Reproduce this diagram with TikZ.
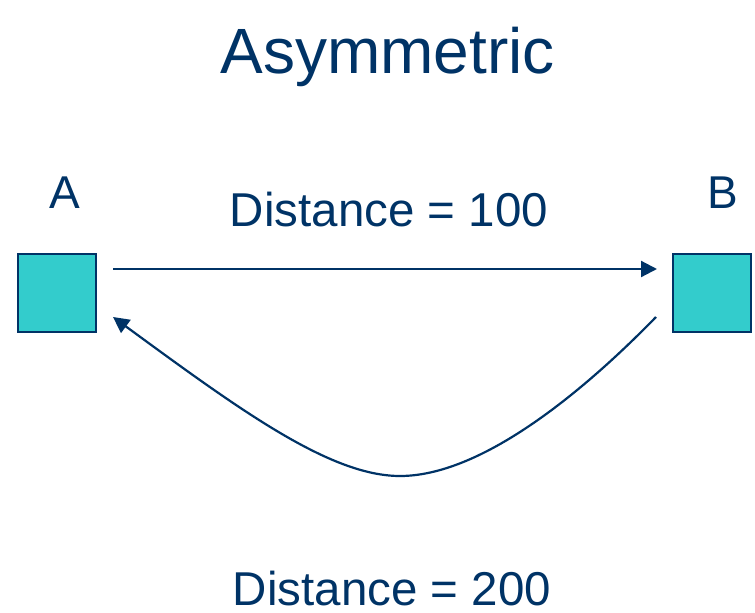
\documentclass[tikz,border=0pt]{standalone}
\usepackage{fontspec}
\setmainfont{Liberation Sans}
\usetikzlibrary{arrows.meta,calc}
\definecolor{navy}{HTML}{003366}
\definecolor{teal}{HTML}{33CCCC}
\begin{document}
\begin{tikzpicture}[x=1pt,y=-1pt,
  site/.style={draw=navy,fill=teal,line width=2pt,minimum size=78pt,inner sep=0pt},
  caption/.style={text=navy,anchor=base,inner sep=0pt,text depth=0pt,font=\fontsize{47.5}{50}\selectfont},
  heading/.style={text=navy,anchor=base,inner sep=0pt,font=\fontsize{64}{70}\selectfont},
  link/.style={draw=navy,line width=2.2pt,-{Triangle[length=16pt,width=16pt]}}]
  \useasboundingbox (0,0) rectangle (755,613);
  % title
  \node[heading] (title) at (387.5,73) {Asymmetric};
  % the two sites
  \node[site] (boxA) at (57,293) {};
  \node[site] (boxB) at (712,293) {};
  \node[caption,font=\fontsize{46}{50}\selectfont] (lblA) at (65,208) {A};
  \node[caption,font=\fontsize{46}{50}\selectfont] (lblB) at (723,208) {B};
  % distances
  \node[caption] (d100) at (389,226) {Distance = 100};
  \node[caption] (d200) at (392,605) {Distance = 200};
  % A to B, straight
  \draw[link] ($(boxA.east)+(16,-24)$) -- ($(boxB.west)+(-15,-24)$);
  % B back to A, the long way round
  \coordinate (low) at (400,476);
  \draw[link] ($(boxB.west)+(-16,24)$)
     .. controls (580,395) and (480,476) .. (low)
     .. controls (330,476) and (240,410) .. ($(boxA.east)+(16,24)$);
\end{tikzpicture}
\end{document}
